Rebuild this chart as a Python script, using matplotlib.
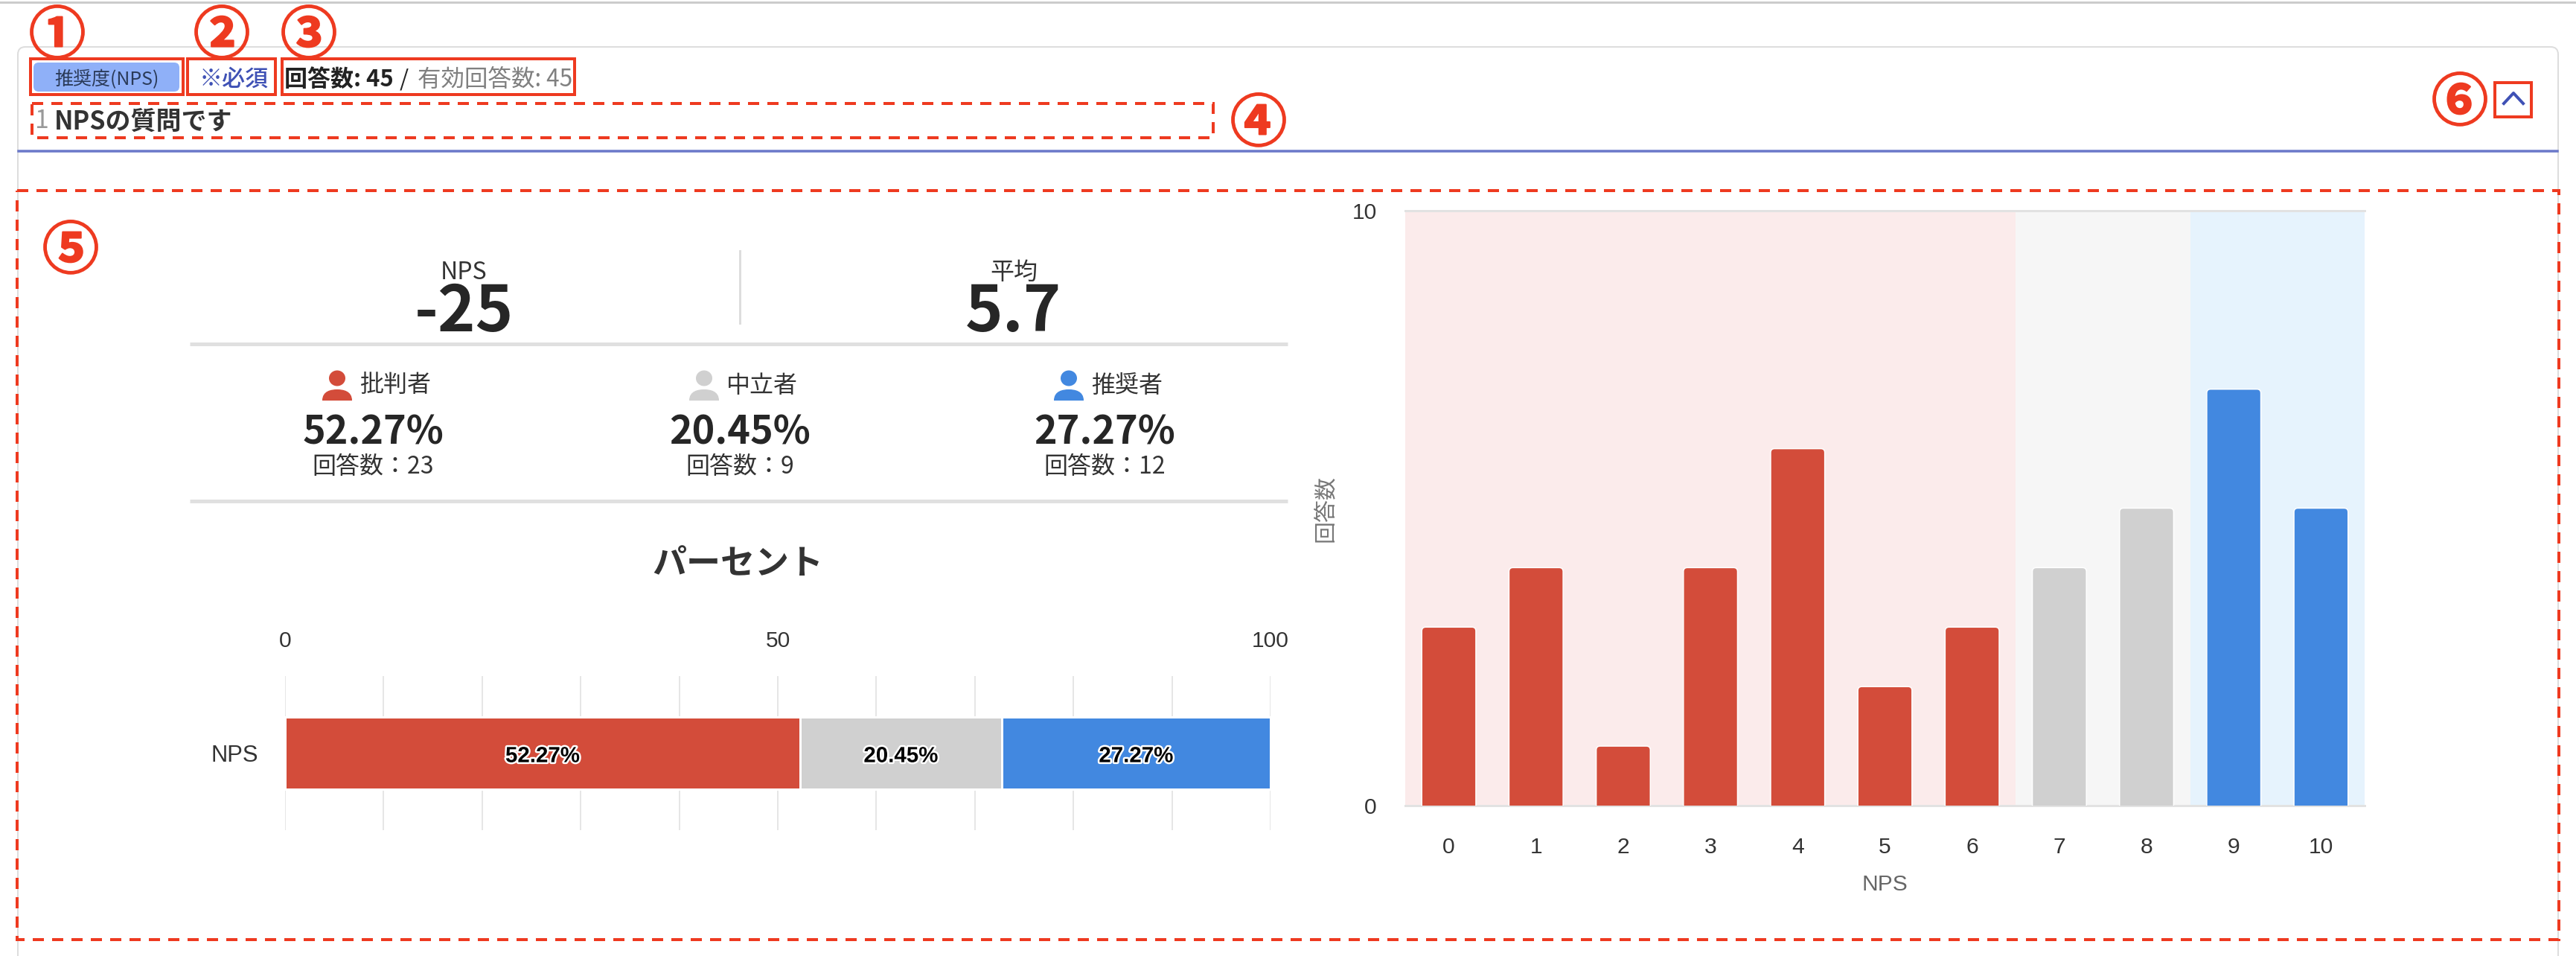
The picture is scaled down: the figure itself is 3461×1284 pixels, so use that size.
import matplotlib
matplotlib.use("Agg")
import matplotlib.pyplot as plt
import matplotlib.patheffects as pe
from matplotlib.patches import FancyBboxPatch, Rectangle, Ellipse, PathPatch
from matplotlib.path import Path

JP = ["Noto Sans CJK JP", "DejaVu Sans"]
LATIN = ["Liberation Sans", "DejaVu Sans"]
plt.rcParams["font.family"] = JP

# data
nps_scores = list(range(11))
answer_counts = [3, 4, 1, 4, 6, 2, 3, 4, 5, 7, 5]
segment_names = ["批判者", "中立者", "推奨者"]
segment_pcts = [52.27, 20.45, 27.27]
segment_counts = [23, 9, 12]
summary_labels = ["NPS", "平均"]
summary_values = ["-25", "5.7"]

RED = "#d34c3a"
GREY = "#d0d0d0"
BLUE = "#4288e0"
MARK = "#ee3a20"
INDIGO = "#3f51b5"
segment_colors = [RED, GREY, BLUE]
W, H = 3462, 1284


def pt(v):
    return v * 0.72


def score_color(score):
    if score <= 6:
        return RED
    return GREY if score <= 8 else BLUE


def red_box(ax, x0, y0, x1, y1, dashed=False):
    ax.add_patch(Rectangle((x0, y0), x1 - x0, y1 - y0, fill=False, ec=MARK, lw=pt(4),
                           ls=(0, (3.75, 2.75)) if dashed else "-", zorder=5))


def person(ax, cx, color):
    ax.add_patch(Ellipse((cx, 508), 22, 21, fc=color, ec="none"))
    w, top, bot = 20, 523, 538
    verts = [(cx - w, bot), (cx - w, top + 2), (cx - 8, top), (cx, top),
             (cx + 8, top), (cx + w, top + 2), (cx + w, bot), (cx - w, bot)]
    codes = [Path.MOVETO, Path.CURVE4, Path.CURVE4, Path.CURVE4,
             Path.CURVE4, Path.CURVE4, Path.CURVE4, Path.CLOSEPOLY]
    ax.add_patch(PathPatch(Path(verts, codes), fc=color, ec="none"))


fig = plt.figure(figsize=(W / 100, H / 100), dpi=100, facecolor="white")

# page layer, pixel coordinates
page = fig.add_axes([0, 0, 1, 1], zorder=0)
page.set_xlim(0, W)
page.set_ylim(H, 0)
page.axis("off")

page.plot([0, W], [3, 3], color="#cccccc", lw=pt(3))
page.add_patch(FancyBboxPatch((24, 63), 3413, 1300, boxstyle="round,pad=0,rounding_size=10",
                              fc="white", ec="#dddddd", lw=pt(2)))
page.plot([25, 3436], [203, 203], color="#6b79c9", lw=pt(3.5))

# header
page.add_patch(FancyBboxPatch((45, 84), 196, 39, boxstyle="round,pad=0,rounding_size=7",
                              fc="#8fb0f8", ec="none"))
page.text(143, 107, "推奨度(NPS)", fontsize=pt(25), color="#2a3a58", ha="center", va="center")
page.text(314, 107, "※必須", fontsize=pt(31), color=INDIGO, weight="medium", ha="center", va="center")
page.text(382, 107, "回答数: 45", fontsize=pt(31), color="#222222", weight="bold", ha="left", va="center")
page.text(543, 107, "/", fontsize=pt(31), color="#222222", ha="center", va="center")
page.text(561, 107, "有効回答数: 45", fontsize=pt(31.5), color="#808080", ha="left", va="center")
page.text(47, 163, "1", fontsize=pt(34), color="#999999", ha="left", va="center")
page.text(73, 163, "NPSの質問です", fontsize=pt(34), color="#333333", weight="bold", ha="left", va="center")
page.plot([3364, 3377, 3390], [139, 125, 139], color=INDIGO, lw=pt(4))

# annotations
red_box(page, 41, 79, 246, 127)
red_box(page, 252, 79, 370, 127)
red_box(page, 379, 79, 772, 127)
red_box(page, 3352, 111, 3401, 157)
red_box(page, 43, 139, 1630, 185, dashed=True)
red_box(page, 23, 256, 3438, 1262, dashed=True)
for mark, x, y in [("①", 77, 49), ("②", 298, 49), ("③", 415, 49),
                   ("④", 1691, 167), ("⑤", 95, 338), ("⑥", 3305, 139)]:
    page.text(x, y, mark, fontsize=pt(76), color=MARK, weight="bold", ha="center", va="center",
              path_effects=[pe.withStroke(linewidth=pt(2), foreground=MARK)])

# summary block
for label, value, x in zip(summary_labels, summary_values, [623, 1362]):
    page.text(x, 366, label, fontsize=pt(32), color="#333333", ha="center", va="center")
    page.text(x, 420, value, fontsize=pt(86), color="#262626", weight="bold", ha="center", va="center")
page.plot([994, 994], [337, 434], color="#dddddd", lw=pt(3))
page.plot([255, 1730], [462, 462], color="#e0e0e0", lw=pt(5), solid_capstyle="butt")
page.plot([255, 1730], [673, 673], color="#e0e0e0", lw=pt(5), solid_capstyle="butt")

centers = [501, 994, 1484]
for name, pct, n, color, cx in zip(segment_names, segment_pcts, segment_counts, segment_colors, centers):
    person(page, cx - 48, color)
    page.text(cx + 30, 518, name, fontsize=pt(32), color="#333333", ha="center", va="center")
    page.text(cx, 581, f"{pct:.2f}%", fontsize=pt(52), color="#262626", weight="bold", ha="center", va="center")
    page.text(cx, 627, f"回答数：{n}", fontsize=pt(32), color="#333333", ha="center", va="center")
page.text(991, 757, "パーセント", fontsize=pt(46), color="#333333", weight="bold", ha="center", va="center")

# stacked percent bar
ax_pct = fig.add_axes([383 / W, 1 - 1115 / H, (1707 - 383) / W, (1115 - 908) / H], zorder=1)
ax_pct.patch.set_alpha(0)
ax_pct.set_xlim(0, 100)
ax_pct.set_ylim(-0.5, 0.5)
ax_pct.set_xticks(range(0, 101, 10))
ax_pct.set_xticklabels([str(v) if v in (0, 50, 100) else "" for v in range(0, 101, 10)],
                       family=LATIN, fontsize=pt(30), color="#333333")
ax_pct.set_yticks([0])
ax_pct.set_yticklabels(["NPS"], family=LATIN, fontsize=pt(31), color="#333333")
ax_pct.xaxis.tick_top()
ax_pct.tick_params(axis="x", length=0, pad=pt(33))
ax_pct.tick_params(axis="y", length=0, pad=pt(36))
ax_pct.grid(axis="x", color="#e6e6e6", lw=pt(2))
ax_pct.set_axisbelow(True)
for s in ax_pct.spines.values():
    s.set_visible(False)
left = 0
for pct, color in zip(segment_pcts, segment_colors):
    ax_pct.barh(0, pct, left=left, height=0.47, color=color, edgecolor="white", linewidth=pt(3), zorder=3)
    ax_pct.text(left + pct / 2, -0.02, f"{pct:.2f}%", family=LATIN, fontsize=pt(29.5), weight="bold",
                color="black", ha="center", va="center", zorder=4,
                path_effects=[pe.withStroke(linewidth=pt(5), foreground="white")])
    left += pct

# answer counts by score
ax_bar = fig.add_axes([1888 / W, 1 - 1082 / H, (3177 - 1888) / W, (1082 - 283) / H], zorder=1)
ax_bar.set_xlim(-0.5, 10.5)
ax_bar.set_ylim(0, 10)
ax_bar.axvspan(-0.5, 6.5, color="#fbebeb", lw=0)
ax_bar.axvspan(6.5, 8.5, color="#f6f6f6", lw=0)
ax_bar.axvspan(8.5, 10.5, color="#e6f3fd", lw=0)
bar_w = 0.62
for score, count in zip(nps_scores, answer_counts):
    ax_bar.add_patch(FancyBboxPatch((score - bar_w / 2, -1), bar_w, count + 1,
                                    boxstyle="round,pad=0,rounding_size=0.045", mutation_aspect=1.46,
                                    fc=score_color(score), ec="white", lw=pt(1.5), zorder=3))
ax_bar.set_xticks(nps_scores)
ax_bar.set_xticklabels(nps_scores, family=LATIN, fontsize=pt(30), color="#333333")
ax_bar.set_yticks([0, 10])
ax_bar.set_yticklabels([0, 10], family=LATIN, fontsize=pt(30), color="#333333")
ax_bar.tick_params(axis="x", length=0, pad=pt(42))
ax_bar.tick_params(axis="y", length=0, pad=pt(38))
ax_bar.set_xlabel("NPS", family=LATIN, fontsize=pt(30), color="#666666", labelpad=pt(22))
ax_bar.set_ylabel("回答数", fontsize=pt(30), color="#777777", labelpad=pt(20))
for side in ("left", "right"):
    ax_bar.spines[side].set_visible(False)
for side in ("top", "bottom"):
    ax_bar.spines[side].set_color("#e2e2e2")
    ax_bar.spines[side].set_linewidth(pt(3))

fig.savefig("out.png", dpi=100)
